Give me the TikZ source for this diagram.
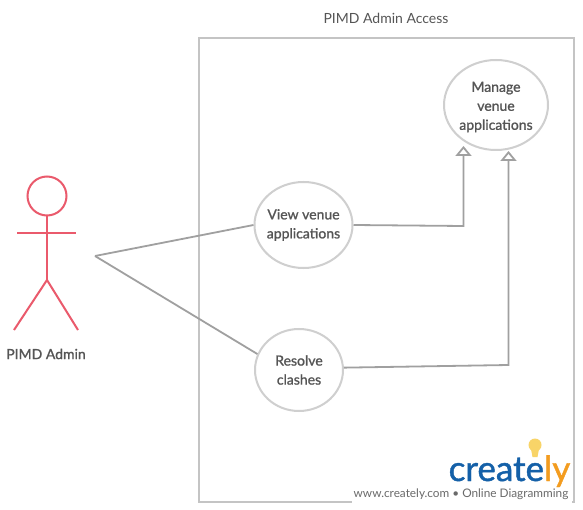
\documentclass[tikz,border=0pt]{standalone}
\usepackage{fontspec}
\setmainfont{Lato}
\newfontfamily\latomed[FakeBold=1.2]{Lato}
\usetikzlibrary{arrows.meta,shapes.geometric}
\definecolor{framec}{HTML}{C4C4C4}
\definecolor{linec}{HTML}{A0A0A0}
\definecolor{ovalc}{HTML}{CFCFCF}
\definecolor{actorc}{HTML}{EA5A6C}
\definecolor{textc}{HTML}{555555}
\definecolor{sitec}{HTML}{6A6A6A}
\definecolor{logob}{HTML}{1460A8}
\definecolor{logoo}{HTML}{F39C1F}
\definecolor{logoy}{HTML}{F8D468}
\tikzset{
  x=1pt,y=-1pt,
  usecase/.style={draw=ovalc,line width=2pt,ellipse,inner ysep=0pt,inner xsep=-20pt,minimum width=#1,align=center,
     font=\fontsize{14}{19}\selectfont\latomed,text=textc},
  assoc/.style={draw=linec,line width=1.8pt},
  gen/.style={assoc,-{Triangle[open,length=10pt,width=16pt,line width=1.8pt]}},
  actorline/.style={draw=actorc,line width=2pt},
  lbl/.style={font=\fontsize{14}{16}\selectfont,text=textc,inner sep=0pt},
}
\begin{document}
\begin{tikzpicture}
\useasboundingbox (0,0) rectangle (583,510);
\fill[white] (0,0) rectangle (583,510);
% frame
\node[draw=framec,line width=1.6pt,minimum width=375pt,minimum height=464pt,inner sep=0pt] (frame) at (386.5,270) {};
\node[lbl] (title) at (386,18) {PIMD Admin Access};
% use cases
\node[usecase=104pt,minimum height=90pt] (manage) at (496,105) {\parbox{80pt}{\centering\vspace*{4pt}Manage\\venue\\applications}};
\node[usecase=98pt,minimum height=86pt] (view) at (303.5,225) {\parbox{80pt}{\centering View venue\\applications}};
\node[usecase=88pt,minimum height=82pt] (resolve) at (299,370) {\parbox{70pt}{\centering Resolve\\clashes}};
% actor
\node[draw=actorc,line width=2pt,circle,minimum size=39pt,inner sep=0pt] (head) at (47,196) {};
\coordinate (armL) at (17,233);
\coordinate (armR) at (76,233);
\coordinate (hip) at (47,280);
\coordinate (footL) at (14,330);
\coordinate (footR) at (78,330);
\draw[actorline] (head.south) -- (hip);
\draw[actorline] (armL) -- (armR);
\draw[actorline] (footL) -- (hip) -- (footR);
\node[lbl,font=\fontsize{14}{16}\selectfont\latomed] (actorname) at (46,354) {PIMD Admin};
% connectors
\coordinate (assocend) at (95,256);
\draw[assoc] (assocend) -- (view.west);
\draw[assoc] (assocend) -- (resolve.159);
\coordinate (tipA) at (463.5,146);
\coordinate (tipB) at (508.5,151);
\coordinate (bendA) at (463.5,226);
\coordinate (bendB) at (508.5,365);
\draw[gen] (view.east) -- (bendA) -- (tipA);
\draw[gen] (resolve.3) -- (bendB) -- (tipB);
% watermark
\fill[white] (352,487) rectangle (572,510);
\fill[white] (440,430) rectangle (572,487);
\draw[framec,line width=1.6pt] (574,440) -- (574,499);
\node[font=\fontsize{11.8}{14}\selectfont,text=sitec,inner sep=0pt] (site) at (461,494) {www.creately.com • Online Diagramming};
\node[font=\fontsize{35}{40}\selectfont\latomed,inner sep=0pt,anchor=base east] (logo) at (570.5,481) {\textcolor{logob}{create}\textcolor{logoo}{ly}};
\fill[logoy] (535,445) circle (6.5pt);
\fill[logoy] (531,449) -- (539,449) -- (537.5,457) -- (532.5,457) -- cycle;
\end{tikzpicture}
\end{document}
